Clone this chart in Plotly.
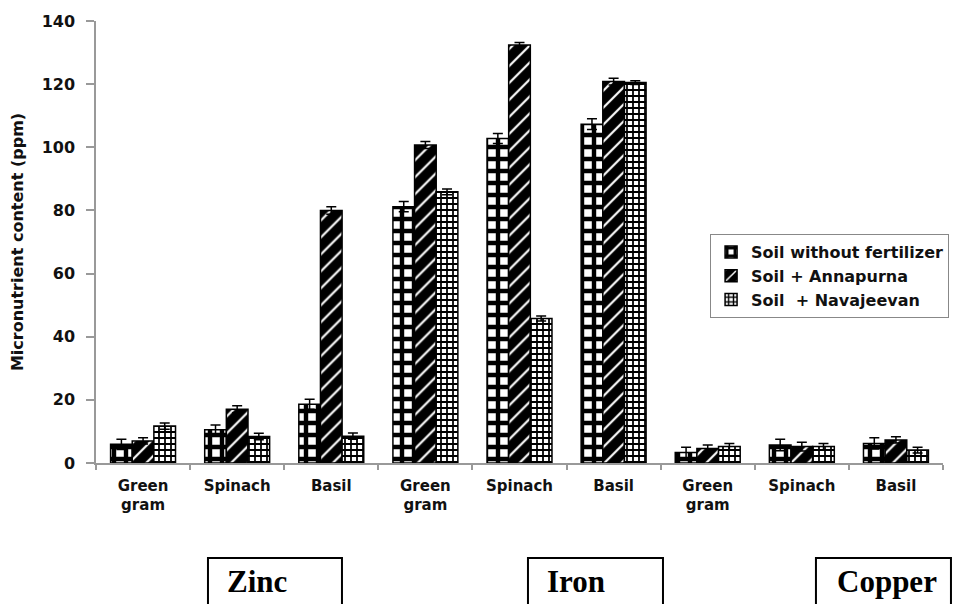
import plotly.graph_objects as go

nutrients = ["Zinc", "Iron", "Copper"]
crops = ["Green<br>gram", "Spinach", "Basil"]
series_names = ["Soil without fertilizer", "Soil + Annapurna", "Soil&nbsp; + Navajeevan"]

# values in ppm, order: Zinc (GG, Spinach, Basil), Iron (...), Copper (...)
without_fert = [5.9, 10.5, 18.6, 81.2, 102.8, 107.3, 3.3, 5.7, 6.2]
annapurna = [7.0, 17.0, 80.0, 100.7, 132.4, 120.8, 4.6, 5.2, 7.3]
navajeevan = [11.7, 8.4, 8.5, 85.9, 45.8, 120.5, 5.2, 5.2, 4.1]

err_without = [1.6, 1.5, 1.6, 1.6, 1.6, 1.7, 1.7, 1.8, 1.8]
err_annapurna = [1.0, 1.1, 1.2, 1.1, 0.8, 1.1, 1.1, 1.4, 1.0]
err_navajeevan = [1.0, 1.0, 1.0, 0.9, 0.8, 0.6, 1.0, 1.0, 0.9]

y_ticks = [0, 20, 40, 60, 80, 100, 120, 140]

tick_text = [c for n in nutrients for c in crops]
x_pos = list(range(len(tick_text)))

patterns = [
    dict(shape="+", size=12, solidity=0.6, fgcolor="black", bgcolor="white", fillmode="replace"),
    dict(shape="/", size=12, solidity=0.18, fgcolor="white", bgcolor="black", fillmode="replace"),
    dict(shape="+", size=6, solidity=0.5, fgcolor="black", bgcolor="white", fillmode="replace"),
]

fig = go.Figure()
for name, vals, errs, pat in zip(series_names,
                                 [without_fert, annapurna, navajeevan],
                                 [err_without, err_annapurna, err_navajeevan],
                                 patterns):
    fig.add_trace(go.Bar(
        x=x_pos, y=vals, name=name,
        marker=dict(color="white", pattern=pat, line=dict(color="black", width=1.5)),
        error_y=dict(type="data", array=errs, visible=True, color="black", thickness=1.5, width=5),
    ))

ax_font = dict(family="DejaVu Sans", size=15, color="#111")

# the page body adds an 8px offset, so the figure is a bit smaller than the window
fig.update_layout(
    width=956, height=596,
    margin=dict(l=88, r=21, t=13, b=141),
    paper_bgcolor="white", plot_bgcolor="white",
    barmode="group", bargap=0.31, bargroupgap=0,
    font=dict(family="DejaVu Sans", color="#111"),
    showlegend=True,
    legend=dict(
        x=0.725, y=0.518, xanchor="left", yanchor="top",
        bordercolor="#888", borderwidth=1, bgcolor="white",
        font=dict(family="DejaVu Sans", size=16, color="#111", weight="bold"),
        itemwidth=30, tracegroupgap=0,
    ),
    xaxis=dict(
        range=[-0.5, 8.5], tickmode="array", tickvals=x_pos, ticktext=[f"<b>{t}</b>" for t in tick_text],
        ticks="", showline=True, linecolor="#999", linewidth=1.5, showgrid=False, zeroline=False,
        tickfont=ax_font, ticklabelstandoff=8, automargin=False,
        minor=dict(tickmode="array", tickvals=[p - 0.5 for p in x_pos] + [8.5],
                   ticks="outside", ticklen=5, tickcolor="#999", tickwidth=1.5),
    ),
    yaxis=dict(
        range=[0, 140], tickmode="array", tickvals=y_ticks, ticktext=[f"<b>{v}</b>" for v in y_ticks],
        ticks="outside", ticklen=8, tickcolor="#999", tickwidth=1.5,
        showline=True, linecolor="#999", linewidth=1.5, showgrid=False, zeroline=False,
        tickfont=dict(family="DejaVu Sans", size=16, color="#111"), ticklabelstandoff=8,
        automargin=False,
        title=dict(text="<b>Micronutrient content (ppm)</b>", font=dict(family="DejaVu Sans", size=16, color="#111"),
                   standoff=22),
    ),
)

# nutrient boxes below the axis
box_x = [(0.1322, 0.2904), (0.510, 0.6694), (0.850, 1.0094)]
text_x = [0.1523, 0.530, 0.8725]
for name, (x0, x1), tx in zip(nutrients, box_x, text_x):
    fig.add_shape(type="rect", xref="paper", yref="paper", x0=x0, x1=x1, y0=-0.40, y1=-0.2148,
                  line=dict(color="black", width=2), fillcolor="white")
    fig.add_annotation(xref="paper", yref="paper", x=tx, y=-0.267, xanchor="left", yanchor="middle",
                       text=f"<b>{name}</b>", showarrow=False,
                       font=dict(family="Liberation Serif", size=31, color="black"))

fig.write_html("out.html")
